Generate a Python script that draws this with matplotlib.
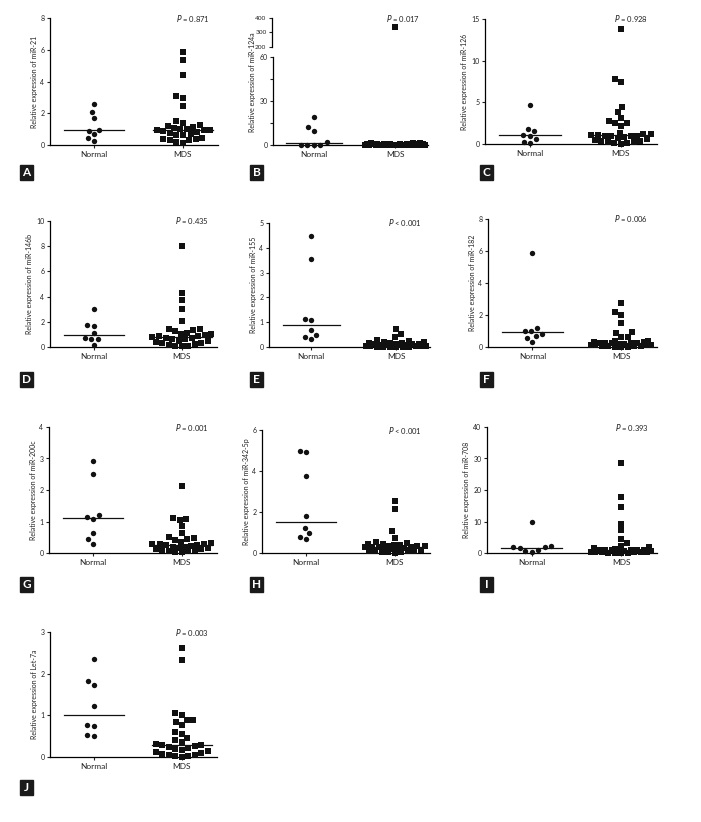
import numpy as np
import matplotlib
matplotlib.use('Agg')
import matplotlib.pyplot as plt
from matplotlib.patches import Rectangle

plt.rcParams['font.family'] = ['Lato', 'DejaVu Sans']

W, H = 701, 822

groups = ['Normal', 'MDS']

# values
a_normal = [2.57, 2.06, 1.68, 0.95, 0.90, 0.67, 0.46, 0.25]
a_mds = [5.83, 5.37, 4.42, 3.10, 2.99, 2.46, 1.52, 1.41, 1.25, 1.20, 1.15, 1.05, 1.00, 0.98,
         0.95, 0.95, 0.92, 0.90, 0.80, 0.75, 0.70, 0.65, 0.60, 0.45, 0.40, 0.35, 0.33, 0.30, 0.20, 0.15]

b_normal = [18.9, 12.1, 9.6, 1.8, 0.3, 0.2, 0.2, 0.1]
b_mds = [340, 1.6, 1.3, 1.1, 0.9, 0.8, 0.7, 0.6, 0.55, 0.5, 0.45, 0.4, 0.35, 0.3, 0.3, 0.25,
         0.2, 0.2, 0.15, 0.15, 0.12, 0.1, 0.1, 0.08, 0.06, 0.05, 0.04, 0.03, 0.02, 0.01]

c_normal = [4.71, 1.80, 1.52, 1.12, 0.92, 0.56, 0.28, 0.12]
c_mds = [13.8, 7.8, 7.4, 4.4, 3.8, 3.1, 2.8, 2.5, 2.5, 2.1, 1.3, 1.2, 1.2, 1.1, 1.1, 1.0, 1.0,
         0.95, 0.9, 0.8, 0.7, 0.6, 0.5, 0.4, 0.3, 0.25, 0.2, 0.15, 0.1, 0.05]

d_normal = [3.04, 1.77, 1.67, 1.11, 0.74, 0.61, 0.61, 0.13]
d_mds = [8.0, 4.3, 3.75, 3.05, 2.05, 1.45, 1.4, 1.35, 1.3, 1.1, 1.05, 1.0, 0.95, 0.9, 0.85,
         0.8, 0.75, 0.7, 0.65, 0.6, 0.5, 0.45, 0.4, 0.35, 0.3, 0.2, 0.15, 0.1, 0.08, 0.05]

e_normal = [4.49, 3.56, 1.12, 1.10, 0.69, 0.50, 0.40, 0.32]
e_mds = [0.73, 0.52, 0.4, 0.3, 0.25, 0.22, 0.2, 0.18, 0.17, 0.15, 0.14, 0.13, 0.12, 0.11, 0.1,
         0.09, 0.08, 0.07, 0.06, 0.05, 0.05, 0.04, 0.03, 0.03, 0.02, 0.02, 0.01, 0.01, 0.01, 0.0]

f_normal = [5.9, 1.19, 1.03, 0.98, 0.84, 0.67, 0.57, 0.31]
f_mds = [2.75, 2.2, 2.03, 1.5, 0.95, 0.88, 0.65, 0.6, 0.4, 0.35, 0.32, 0.3, 0.28, 0.27, 0.25,
         0.24, 0.22, 0.2, 0.18, 0.15, 0.12, 0.1, 0.1, 0.08, 0.06, 0.05, 0.04, 0.03, 0.02, 0.01]

g_normal = [2.91, 2.52, 1.22, 1.14, 1.09, 0.63, 0.44, 0.30]
g_mds = [2.12, 1.1, 1.08, 1.05, 0.85, 0.62, 0.5, 0.48, 0.45, 0.4, 0.35, 0.33, 0.3, 0.28, 0.27,
         0.26, 0.25, 0.22, 0.2, 0.18, 0.17, 0.15, 0.14, 0.12, 0.1, 0.08, 0.07, 0.05, 0.04, 0.03]

h_normal = [4.99, 4.94, 3.76, 1.82, 1.22, 0.97, 0.78, 0.68]
h_mds = [2.55, 2.15, 1.05, 0.75, 0.55, 0.5, 0.45, 0.42, 0.4, 0.38, 0.35, 0.33, 0.32, 0.3, 0.3,
         0.28, 0.27, 0.25, 0.22, 0.2, 0.18, 0.15, 0.12, 0.1, 0.1, 0.08, 0.06, 0.05, 0.03, 0.02]

i_normal = [10.0, 2.1, 1.85, 1.75, 1.7, 1.05, 0.5, 0.42]
i_mds = [28.6, 17.8, 14.5, 9.3, 7.2, 4.4, 3.2, 2.2, 2.0, 1.5, 1.2, 1.0, 0.95, 0.9, 0.85, 0.82,
         0.8, 0.7, 0.6, 0.5, 0.45, 0.4, 0.35, 0.3, 0.25, 0.2, 0.15, 0.1, 0.08, 0.05]

j_normal = [2.36, 1.82, 1.74, 1.22, 0.78, 0.75, 0.54, 0.51]
j_mds = [2.62, 2.32, 1.05, 1.0, 0.9, 0.88, 0.85, 0.78, 0.6, 0.55, 0.45, 0.4, 0.35, 0.32, 0.3,
         0.28, 0.27, 0.25, 0.22, 0.2, 0.18, 0.15, 0.12, 0.1, 0.08, 0.06, 0.05, 0.03, 0.02, 0.01]

genes = ['miR-21', 'miR-124a', 'miR-126', 'miR-146b', 'miR-155',
         'miR-182', 'miR-200c', 'miR-342-5p', 'miR-708', 'Let-7a']
pvals = ['= 0.871', '= 0.017', '= 0.928', '= 0.435', '< 0.001',
         '= 0.006', '= 0.001', '< 0.001', '= 0.393', '= 0.003']
letters = list('ABCDEFGHIJ')
normals = [a_normal, b_normal, c_normal, d_normal, e_normal,
           f_normal, g_normal, h_normal, i_normal, j_normal]
mdss = [a_mds, b_mds, c_mds, d_mds, e_mds, f_mds, g_mds, h_mds, i_mds, j_mds]
yticks = [[0, 2, 4, 6, 8], [0, 15, 30, 45, 60], [0, 5, 10, 15], [0, 2, 4, 6, 8, 10],
          [0, 1, 2, 3, 4, 5], [0, 2, 4, 6, 8], [0, 1, 2, 3, 4], [0, 2, 4, 6],
          [0, 10, 20, 30, 40], [0, 1, 2, 3]]

# layout in pixels: left, right, top, bottom of each axes
boxes = [(50, 218, 18, 145), (273, 428, 57, 145), (485, 657, 19, 144),
         (50, 217, 221, 347), (269, 430, 223, 347), (488, 657, 219, 347),
         (49, 217, 427, 553), (262, 430, 430, 553), (487, 657, 427, 553),
         (50, 217, 632, 757)]
tags = [(20, 165), (250, 165), (480, 165), (20, 372), (250, 372), (480, 372),
        (20, 577), (250, 577), (480, 577), (20, 780)]

fig = plt.figure(figsize=(W / 100, H / 100), dpi=100)


def add_ax(l, r, t, b):
    return fig.add_axes([l / W, 1 - b / H, (r - l) / W, (b - t) / H])


def style(ax, bottom=True):
    for s in ['top', 'right']:
        ax.spines[s].set_visible(False)
    for s in ['left', 'bottom']:
        ax.spines[s].set_linewidth(0.9)
    ax.tick_params(axis='y', length=2.5, width=0.8, pad=1.5, labelsize=5, colors='#222222')
    ax.tick_params(axis='x', length=2.5, width=0.8, pad=2, labelsize=6, colors='#222222')
    if not bottom:
        ax.spines['bottom'].set_visible(False)
        ax.set_xticks([])


def swarm(ax, vals, center, dmin=6.5, maxw=30):
    vals = np.asarray(vals, float)
    pts = ax.transData.transform(np.column_stack([np.full(len(vals), center), vals]))
    ys = pts[:, 1]
    cands = sorted(np.arange(-maxw, maxw + 0.1, 0.5), key=abs)
    offs = np.zeros(len(vals))
    px, py = [], []
    for i in np.argsort(vals, kind='stable'):
        best, bestd = 0.0, -1
        for c in cands:
            d = np.min(np.hypot(np.array(px) - c, np.array(py) - ys[i])) if px else np.inf
            if d >= dmin:
                best = c
                break
            if d > bestd:
                best, bestd = c, d
        offs[i] = best
        px.append(best)
        py.append(ys[i])
    unit = ax.transData.transform([(1, 0)])[0, 0] - ax.transData.transform([(0, 0)])[0, 0]
    return center + offs / unit


for k in range(10):
    l, r, t, b = boxes[k]
    ax = add_ax(l, r, t, b)
    style(ax)
    ax.set_xlim(-0.5, 1.4)
    ax.set_ylim(0, yticks[k][-1])
    ax.set_yticks(yticks[k])
    ax.set_xticks([0, 1])
    ax.set_xticklabels(groups)
    top_ax = None
    if k == 1:
        ax.set_yticklabels(['0', '', '30', '', '60'])
        top_ax = add_ax(l - 1, r, 18, 47)
        style(top_ax, bottom=False)
        top_ax.tick_params(axis='y', labelsize=4.6)
        top_ax.set_xlim(-0.5, 1.4)
        top_ax.set_ylim(200, 400)
        top_ax.set_yticks([200, 300, 400])
        fig.text((l - 21) / W, 1 - 82 / H, 'Relative expression of ' + genes[k],
                 rotation=90, fontsize=5, ha='center', va='center', color='#222222')
    else:
        ax.set_ylabel('Relative expression of ' + genes[k], fontsize=5, labelpad=2,
                      color='#222222')

    for c, vals, mk in [(0, normals[k], 'o'), (1, mdss[k], 's')]:
        vals = np.asarray(vals, float)
        xs = swarm(ax, vals, c)
        lo = vals <= ax.get_ylim()[1]
        ax.scatter(xs[lo], vals[lo], s=15, marker=mk, color='#111111', linewidths=0,
                   clip_on=False, zorder=3)
        if top_ax is not None and (~lo).any():
            top_ax.scatter(xs[~lo], vals[~lo], s=15, marker=mk, color='#111111',
                           linewidths=0, zorder=3)
        m = np.median(vals)
        ax.plot([c - 0.34, c + 0.34], [m, m], color='#111111', lw=0.9, zorder=2)

    pax = top_ax if top_ax is not None else ax
    pax.text(0.95, 1.0, '$P$ ' + pvals[k], transform=pax.transAxes, ha='right',
             va='center', fontsize=5.5, color='#222222')

    x0, y0 = tags[k]
    fig.add_artist(Rectangle((x0 / W, 1 - (y0 + 15) / H), 13 / W, 15 / H,
                             transform=fig.transFigure, color='#1a1a1a'))
    fig.text((x0 + 6.5) / W, 1 - (y0 + 7.5) / H, letters[k], color='white',
             fontsize=8.5, fontweight='bold', ha='center', va='center')

fig.savefig('out.png', dpi=100, facecolor='white')
